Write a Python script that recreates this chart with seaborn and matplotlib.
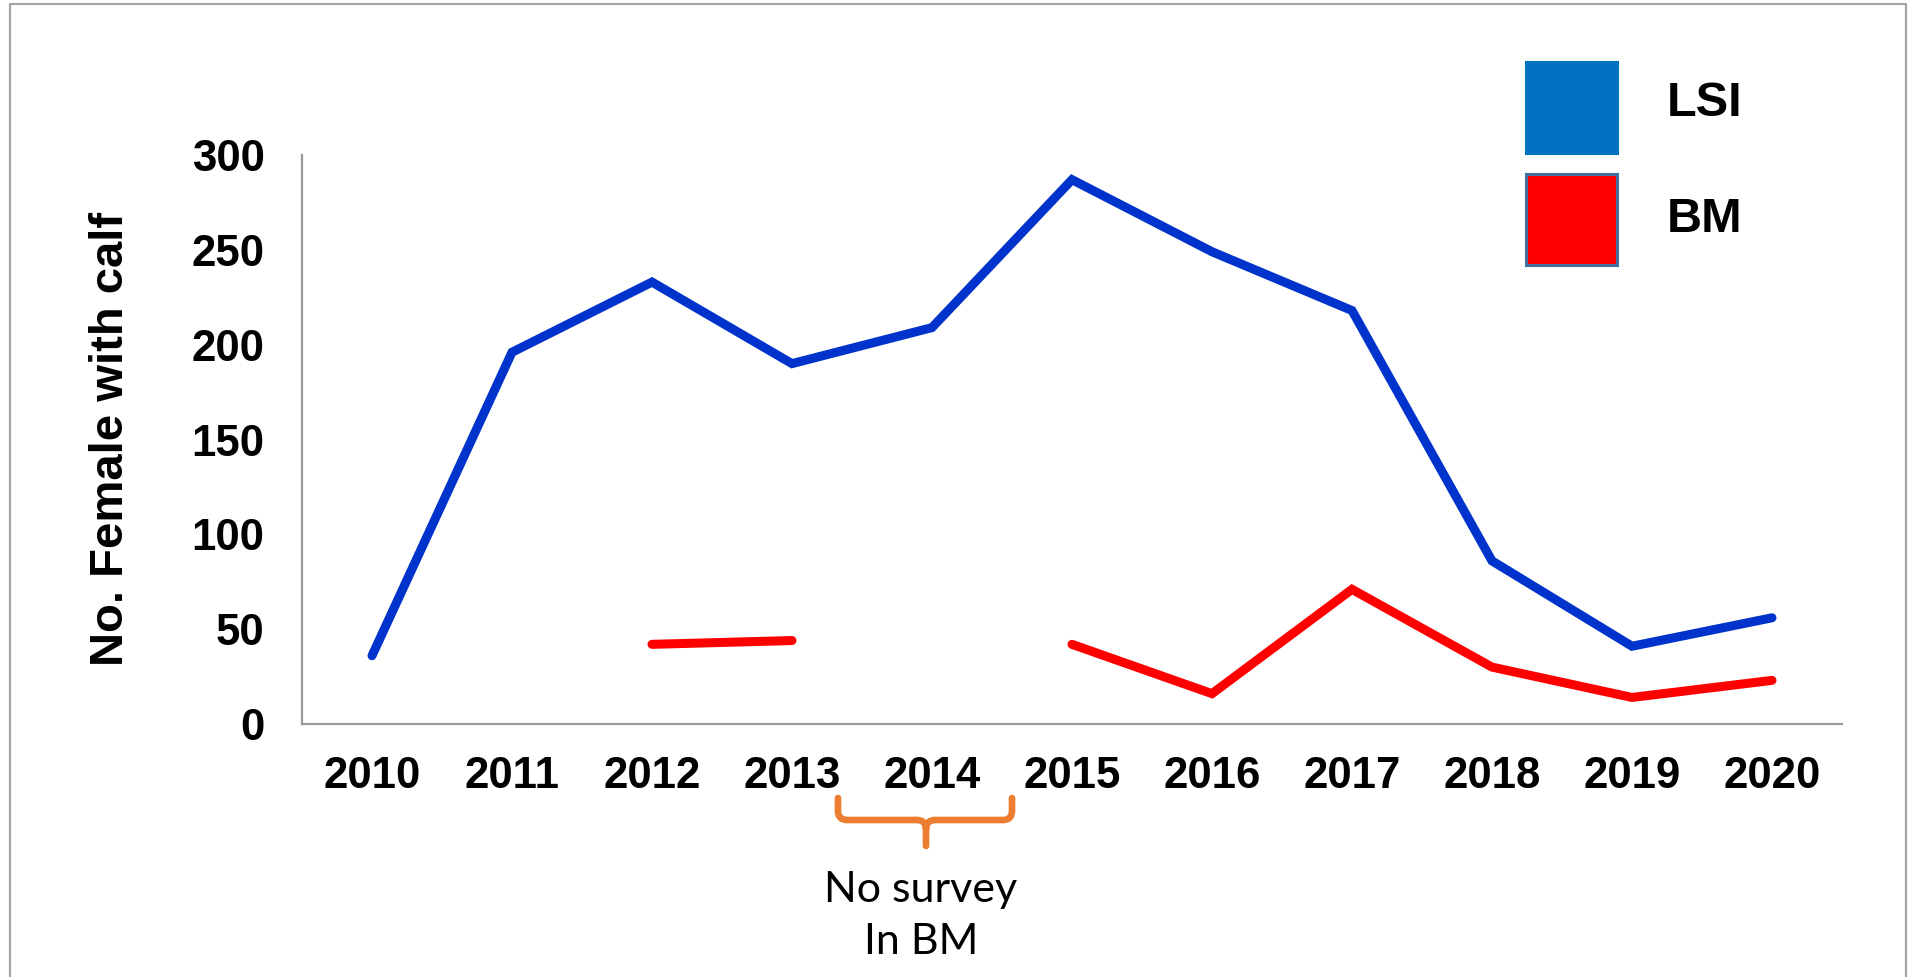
import numpy as np
import pandas as pd
import matplotlib
matplotlib.use("Agg")
import matplotlib.pyplot as plt
from matplotlib.patches import Rectangle, PathPatch
from matplotlib.path import Path
from matplotlib.lines import Line2D
import seaborn as sns

# ---- data ----
years = ["2010", "2011", "2012", "2013", "2014", "2015", "2016", "2017", "2018", "2019", "2020"]
lsi = [36, 196, 233, 190, 209, 287, 249, 218, 86, 41, 56]
bm = [np.nan, np.nan, 42, 44, np.nan, 42, 16, 71, 30, 14, 23]
series_names = ["LSI", "BM"]
y_ticks = [0, 50, 100, 150, 200, 250, 300]
y_label = "No. Female with calf"
note_text = "No survey\nIn BM"

line_colors = {"LSI": "#0033CC", "BM": "#FF0000"}
legend_colors = {"LSI": "#0070C0", "BM": "#FF0000"}
legend_edges = {"LSI": "#0070C0", "BM": "#41719C"}

# long-form table; NaN gaps split a series into separate segments (units)
rows = []
seg = 0
for name, vals in zip(series_names, [lsi, bm]):
    prev_nan = True
    for yr, v in zip(years, vals):
        if v is None or (isinstance(v, float) and np.isnan(v)):
            prev_nan = True
            continue
        if prev_nan:
            seg += 1
            prev_nan = False
        rows.append({"year": yr, "value": v, "series": name, "segment": seg})
df = pd.DataFrame(rows)

sns.set_theme(style="white")
plt.rcParams["font.family"] = ["Liberation Sans", "DejaVu Sans"]

W, H = 1921, 977
DPI = 100
fig = plt.figure(figsize=(W / DPI, H / DPI), dpi=DPI)
fig.patch.set_facecolor("white")

ax_l, ax_r, ax_t, ax_b = 302, 1842, 155, 724
ax = fig.add_axes([ax_l / W, 1 - ax_b / H, (ax_r - ax_l) / W, (ax_b - ax_t) / H])

sns.lineplot(data=df, x="year", y="value", hue="series", units="segment",
             estimator=None, palette=line_colors, hue_order=series_names,
             linewidth=6.5, legend=False, ax=ax, sort=False,
             solid_capstyle="round", solid_joinstyle="miter")

ax.set_xlim(-0.5, len(years) - 0.5)
ax.set_ylim(0, 300)
ax.set_xticks(range(len(years)))
ax.set_xticklabels(years)
ax.set_yticks(y_ticks)
ax.set_yticklabels([str(t) for t in y_ticks])
ax.set_xlabel("")
ax.set_ylabel(y_label, fontsize=34, fontweight="bold", labelpad=42, color="black")
ax.tick_params(axis="both", length=0, labelsize=31.5, colors="black")
ax.tick_params(axis="x", pad=23)
ax.tick_params(axis="y", pad=27)
for lbl in ax.get_xticklabels() + ax.get_yticklabels():
    lbl.set_fontweight("bold")
for side in ["top", "right"]:
    ax.spines[side].set_visible(False)
for side in ["left", "bottom"]:
    ax.spines[side].set_color("#999999")
    ax.spines[side].set_linewidth(1.6)
ax.grid(False)
ax.set_facecolor("white")


def fx(px):
    return px / W


def fy(py):
    return 1 - py / H


# legend (manual swatches + labels)
sw_x0, sw_x1 = 1526, 1617
sw_rows = [(62, 153, 104), (174, 265, 219)]
for name, (top, bot, ty) in zip(series_names, sw_rows):
    fig.add_artist(Rectangle((fx(sw_x0), fy(bot)), (sw_x1 - sw_x0) / W, (bot - top) / H,
                             transform=fig.transFigure, facecolor=legend_colors[name],
                             edgecolor=legend_edges[name], linewidth=2.2))
    fig.text(fx(1667), fy(ty), name, ha="left", va="center", fontsize=35,
             fontweight="bold", color="black")

# orange brace under 2014
x0, x1, xm = 838, 1012, 926
yt, yh, yb = 798, 820, 846
r = 9
verts = [
    (x0, yt), (x0, yh - r), (x0, yh), (x0 + r, yh),
    (xm - r, yh), (xm, yh), (xm, yh + r), (xm, yb),
    (xm, yh + r), (xm, yh), (xm + r, yh),
    (x1 - r, yh), (x1, yh), (x1, yh - r), (x1, yt),
]
codes = [Path.MOVETO, Path.LINETO, Path.CURVE3, Path.CURVE3,
         Path.LINETO, Path.CURVE3, Path.CURVE3, Path.LINETO,
         Path.MOVETO, Path.CURVE3, Path.CURVE3,
         Path.LINETO, Path.CURVE3, Path.CURVE3, Path.LINETO]
path = Path([(fx(a), fy(b)) for a, b in verts], codes)
fig.add_artist(PathPatch(path, transform=fig.transFigure, facecolor="none",
                         edgecolor="#ED7D31", linewidth=4.8, capstyle="round",
                         joinstyle="round"))
fig.text(fx(921), fy(916), note_text, ha="center", va="center", fontsize=31,
         family=["Lato", "DejaVu Sans"], color="black", linespacing=1.42)

# outer frame
frame_c = "#A6A6A6"
fig.add_artist(Line2D([fx(10), fx(10), fx(1906), fx(1906)], [0, fy(4), fy(4), 0],
                      transform=fig.transFigure, color=frame_c, linewidth=1.6))

fig.savefig("out.png", dpi=DPI, facecolor="white")
